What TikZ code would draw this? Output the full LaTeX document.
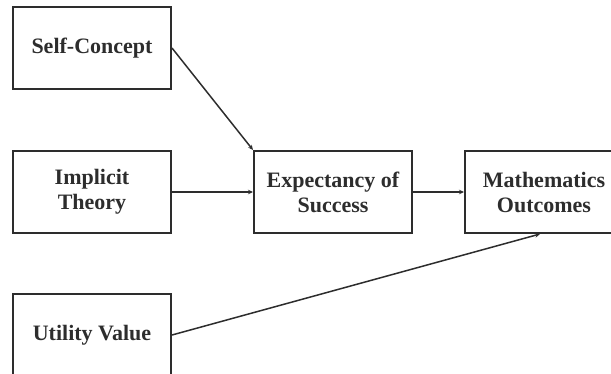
\documentclass[tikz,border=0pt]{standalone}
\usepackage{fontspec}
\setmainfont{Liberation Serif}
\usepackage{tikz}
\usetikzlibrary{arrows.meta,positioning}
\definecolor{ink}{RGB}{45,45,45}
\tikzset{
  blk/.style={draw=ink, line width=2pt, align=center, minimum width=158pt, minimum height=82pt, inner sep=2pt, text=ink, font=\fontsize{22}{25}\selectfont\bfseries},
  arr/.style={-{Stealth[length=5pt,width=4.5pt]}, line width=1.5pt, draw=ink}
}

\begin{document}
\begin{tikzpicture}[x=1pt, y=1pt, node distance=60pt and 81pt]
\clip (0,0) rectangle (611,-373);
\node[blk] (self) at (92,-48) {Self-Concept};
\node[blk, below=of self] (impl) {Implicit\\ Theory};
\node[blk, below=59pt of impl] (util) {Utility Value};
\node[blk, right=of impl] (exp) {Expectancy of\\ Success};
\node[blk, right=51pt of exp] (math) {Mathematics\\ Outcomes};
\draw[arr] (self.east) -- (exp.north west);
\draw[arr] (impl) -- (exp); \draw[arr] (exp) -- (math);
\draw[arr] (util.east) -- ([xshift=-4pt]math.south);
\end{tikzpicture}
\end{document}
